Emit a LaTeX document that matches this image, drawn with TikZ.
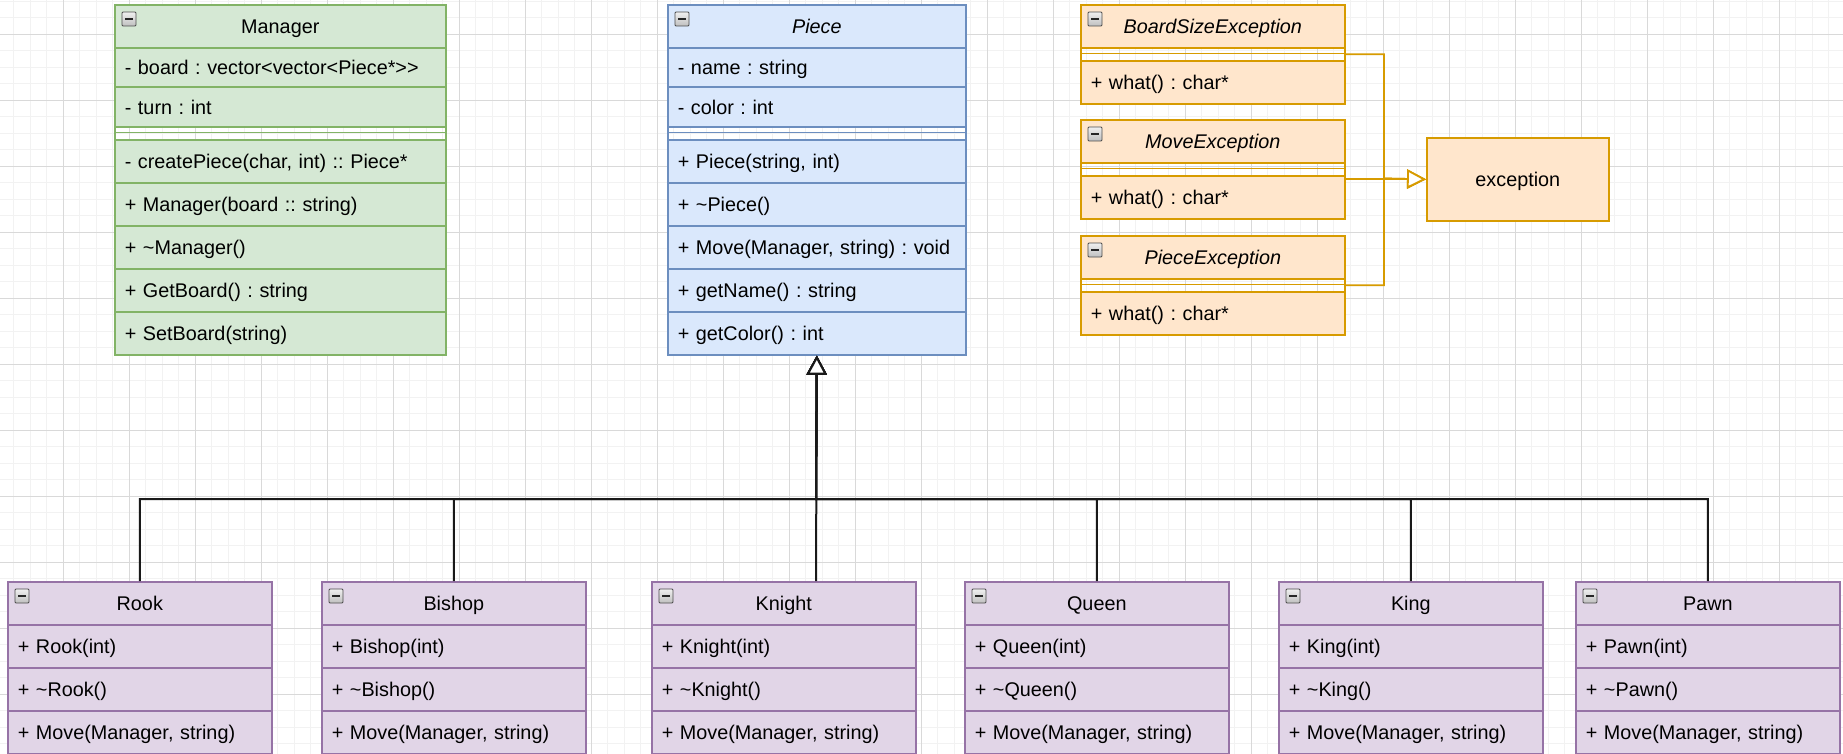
\documentclass[tikz,border=0pt]{standalone}
\usepackage{fontspec}
\setmainfont{Liberation Sans}
\usetikzlibrary{arrows.meta}
\frenchspacing
\definecolor{gfill}{HTML}{D5E8D4}\definecolor{gline}{HTML}{82B366}
\definecolor{bfill}{HTML}{DAE8FC}\definecolor{bline}{HTML}{6C8EBF}
\definecolor{ofill}{HTML}{FFE6CC}\definecolor{oline}{HTML}{D79B00}
\definecolor{pfill}{HTML}{E1D5E7}\definecolor{pline}{HTML}{9673A6}
\tikzset{
  green/.style={fill=gfill,draw=gline},
  blue/.style={fill=bfill,draw=bline},
  orange/.style={fill=ofill,draw=oline},
  purple/.style={fill=pfill,draw=pline},
  rowbox/.style={anchor=north west,inner xsep=10pt,inner ysep=0pt,align=left,
    text height=14.2pt,text depth=0pt,line width=1.6pt},
  hdrbox/.style={anchor=north west,inner sep=0pt,text height=14.2pt,text depth=0pt,line width=1.6pt},
  icon/.style={draw=gray!60!black,line width=0.9pt,top color=gray!12,bottom color=gray!50,rounded corners=1pt},
  iconminus/.style={draw=black!85,line width=2pt},
  inh/.style={draw=black!90,line width=2pt,-{Triangle[open,length=19pt,width=20pt,fill=white]}},
  exe/.style={draw=oline,line width=1.8pt,-{Triangle[open,length=19pt,width=19pt,fill=white]}},
  every node/.style={font=\fontsize{19.8}{24}\selectfont\frenchspacing}
}
\newcommand\crow[7]{%
  \pgfmathsetmacro\crowtw{#4-20}%
  \node[rowbox,#6,minimum width=#4pt,minimum height=#5pt,text width=\crowtw pt] (#1) at (#2,#3) {#7};}
\newcommand\chdr[6]{%
  \node[hdrbox,#5,minimum width=#4pt,minimum height=43pt] (#1) at (#2,#3) {#6};
  \draw[icon] (#2+8,#3+8) rectangle ++(14,14);
  \draw[iconminus] (#2+11,#3+15) -- ++(8,0);}
\newcommand\cframe[6]{%
  \node[anchor=north west,draw=#6,line width=1.6pt,minimum width=#4pt,minimum height=#5pt,inner sep=0pt] (#1) at (#2,#3) {};}
\newcommand\csep[4]{\draw[line width=1.6pt,draw=#4] (#1,#2) -- ++(#3,0);}
\newcommand\piecebox[3]{% id x title
  \chdr{#1-h}{#2}{581}{264}{purple}{#3}
  \crow{#1-r1}{#2}{624}{264}{43}{purple}{+ #3(int)}
  \crow{#1-r2}{#2}{667}{264}{43}{purple}{+ \textasciitilde #3()}
  \crow{#1-r3}{#2}{710}{264}{43}{purple}{+ Move(Manager, string)}
  \cframe{#1}{#2}{581}{264}{172}{pline}}
\begin{document}
\begin{tikzpicture}[x=1pt,y=-1pt]
\useasboundingbox (0,0) rectangle (1843,754);
\fill[white] (0,0) rectangle (1843,754);
% grid
\foreach \i in {0,...,111} \draw[gray!10,line width=1pt] (13.8+16.5*\i,0) -- ++(0,754);
\foreach \j in {0,...,45} \draw[gray!10,line width=1pt] (0,1.3+16.5*\j) -- ++(1843,0);
\foreach \i in {0,...,26} \draw[gray!30,line width=1pt] (63.3+66*\i,0) -- ++(0,754);
\foreach \j in {0,...,10} \draw[gray!30,line width=1pt] (0,34.3+66*\j) -- ++(1843,0);

% Manager
\chdr{mgr-h}{114}{4}{331}{green}{Manager}
\crow{mgr-a1}{114}{47}{331}{39.5}{green}{- board : vector<vector<Piece*>{}>}
\crow{mgr-a2}{114}{86.5}{331}{39.5}{green}{- turn : int}
\csep{114}{132.6}{331}{gline}
\crow{mgr-m1}{114}{139}{331}{43}{green}{- createPiece(char, int) :: Piece*}
\crow{mgr-m2}{114}{182}{331}{43}{green}{+ Manager(board :: string)}
\crow{mgr-m3}{114}{225}{331}{43}{green}{+ \textasciitilde Manager()}
\crow{mgr-m4}{114}{268}{331}{43}{green}{+ GetBoard() : string}
\crow{mgr-m5}{114}{311}{331}{43}{green}{+ SetBoard(string)}
\cframe{manager}{114}{4}{331}{350}{gline}

% Piece
\chdr{pc-h}{667}{4}{298}{blue}{\itshape Piece}
\crow{pc-a1}{667}{47}{298}{39.5}{blue}{- name : string}
\crow{pc-a2}{667}{86.5}{298}{39.5}{blue}{- color : int}
\csep{667}{132.6}{298}{bline}
\crow{pc-m1}{667}{139}{298}{43}{blue}{+ Piece(string, int)}
\crow{pc-m2}{667}{182}{298}{43}{blue}{+ \textasciitilde Piece()}
\crow{pc-m3}{667}{225}{298}{43}{blue}{+ Move(Manager, string) : void}
\crow{pc-m4}{667}{268}{298}{43}{blue}{+ getName() : string}
\crow{pc-m5}{667}{311}{298}{43}{blue}{+ getColor() : int}
\cframe{piece}{667}{4}{298}{350}{bline}

% Exceptions
\chdr{bse-h}{1080}{4}{264}{orange}{\itshape BoardSizeException}
\csep{1080}{53.5}{264}{oline}
\crow{bse-r}{1080}{60}{264}{43}{orange}{+ what() : char*}
\cframe{bse}{1080}{4}{264}{99}{oline}

\chdr{mve-h}{1080}{119}{264}{orange}{\itshape MoveException}
\csep{1080}{168.5}{264}{oline}
\crow{mve-r}{1080}{175}{264}{43}{orange}{+ what() : char*}
\cframe{mve}{1080}{119}{264}{99}{oline}

\chdr{pce-h}{1080}{235}{264}{orange}{\itshape PieceException}
\csep{1080}{284.5}{264}{oline}
\crow{pce-r}{1080}{291}{264}{43}{orange}{+ what() : char*}
\cframe{pce}{1080}{235}{264}{99}{oline}

\node[hdrbox,orange,minimum width=182pt,minimum height=83pt] (exc) at (1426,137) {exception};

% Pieces
\piecebox{rook}{7}{Rook}
\piecebox{bishop}{321}{Bishop}
\piecebox{knight}{651}{Knight}
\piecebox{queen}{964}{Queen}
\piecebox{king}{1278}{King}
\piecebox{pawn}{1575}{Pawn}

% inheritance connectors
\coordinate (bus) at (816,499);
\draw[inh] (rook.north) |- (bus) -- (piece.south);
\draw[inh] (bishop.north) |- (bus) -- (piece.south);
\draw[inh] (bus |- knight.north) -- (piece.south);
\draw[inh] (queen.north) |- (bus) -- (piece.south);
\draw[inh] (king.north) |- (bus) -- (piece.south);
\draw[inh] (pawn.north) |- (bus) -- (piece.south);

% exception connectors
\coordinate (ej) at (1384,178.5);
\draw[exe] (bse.east) -| (ej) -- (exc.west);
\draw[exe] (mve.east |- exc.west) -- (exc.west);
\draw[exe] (pce.east) -| (ej) -- (exc.west);
\end{tikzpicture}
\end{document}
